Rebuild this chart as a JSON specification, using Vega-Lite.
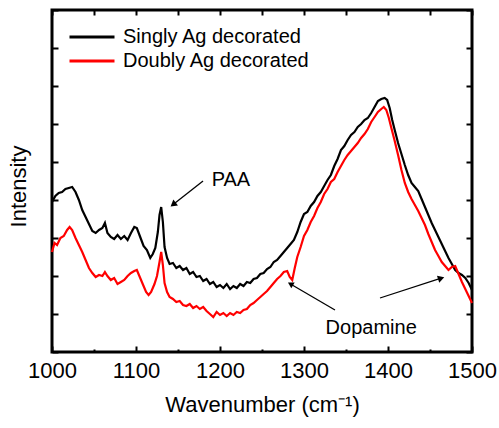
{
  "$schema": "https://vega.github.io/schema/vega-lite/v6.json",
  "width": 420,
  "height": 342,
  "autosize": {"type": "none"},
  "padding": {"left": 52, "top": 10, "right": 27, "bottom": 76},
  "config": {
    "font": "Liberation Sans",
    "view": {"stroke": "#000000", "strokeWidth": 3},
    "axis": {
      "domain": false,
      "grid": false,
      "tickColor": "#000000",
      "tickWidth": 2,
      "labelFont": "Liberation Sans",
      "labelFontSize": 22,
      "labelColor": "#000000",
      "titleFont": "Liberation Sans",
      "titleFontSize": 22,
      "titleFontWeight": "normal",
      "titleColor": "#000000"
    }
  },
  "datasets": {
    "spectra": [
      {"wn":1000,"I":150,"sample":"Singly Ag decorated"},{"wn":1004,"I":156,"sample":"Singly Ag decorated"},{"wn":1008,"I":159,"sample":"Singly Ag decorated"},{"wn":1012,"I":160,"sample":"Singly Ag decorated"},{"wn":1016,"I":163,"sample":"Singly Ag decorated"},{"wn":1020,"I":164,"sample":"Singly Ag decorated"},{"wn":1024,"I":165,"sample":"Singly Ag decorated"},{"wn":1028,"I":160,"sample":"Singly Ag decorated"},{"wn":1032,"I":152,"sample":"Singly Ag decorated"},{"wn":1036,"I":142,"sample":"Singly Ag decorated"},{"wn":1040,"I":135,"sample":"Singly Ag decorated"},{"wn":1044,"I":128,"sample":"Singly Ag decorated"},{"wn":1048,"I":121,"sample":"Singly Ag decorated"},{"wn":1052,"I":119,"sample":"Singly Ag decorated"},{"wn":1056,"I":122,"sample":"Singly Ag decorated"},{"wn":1060,"I":124,"sample":"Singly Ag decorated"},{"wn":1063,"I":129,"sample":"Singly Ag decorated"},{"wn":1066,"I":119,"sample":"Singly Ag decorated"},{"wn":1070,"I":115,"sample":"Singly Ag decorated"},{"wn":1074,"I":113,"sample":"Singly Ag decorated"},{"wn":1078,"I":117,"sample":"Singly Ag decorated"},{"wn":1082,"I":113,"sample":"Singly Ag decorated"},{"wn":1086,"I":116,"sample":"Singly Ag decorated"},{"wn":1090,"I":112,"sample":"Singly Ag decorated"},{"wn":1094,"I":119,"sample":"Singly Ag decorated"},{"wn":1098,"I":125,"sample":"Singly Ag decorated"},{"wn":1101,"I":124,"sample":"Singly Ag decorated"},{"wn":1105,"I":115,"sample":"Singly Ag decorated"},{"wn":1109,"I":106,"sample":"Singly Ag decorated"},{"wn":1113,"I":102,"sample":"Singly Ag decorated"},{"wn":1117,"I":94,"sample":"Singly Ag decorated"},{"wn":1120,"I":98,"sample":"Singly Ag decorated"},{"wn":1123,"I":104,"sample":"Singly Ag decorated"},{"wn":1126,"I":120,"sample":"Singly Ag decorated"},{"wn":1128,"I":137,"sample":"Singly Ag decorated"},{"wn":1130,"I":145,"sample":"Singly Ag decorated"},{"wn":1132,"I":130,"sample":"Singly Ag decorated"},{"wn":1134,"I":105,"sample":"Singly Ag decorated"},{"wn":1137,"I":94,"sample":"Singly Ag decorated"},{"wn":1140,"I":88,"sample":"Singly Ag decorated"},{"wn":1144,"I":89,"sample":"Singly Ag decorated"},{"wn":1148,"I":84,"sample":"Singly Ag decorated"},{"wn":1152,"I":86,"sample":"Singly Ag decorated"},{"wn":1156,"I":82,"sample":"Singly Ag decorated"},{"wn":1160,"I":84,"sample":"Singly Ag decorated"},{"wn":1164,"I":78,"sample":"Singly Ag decorated"},{"wn":1168,"I":80,"sample":"Singly Ag decorated"},{"wn":1172,"I":75,"sample":"Singly Ag decorated"},{"wn":1176,"I":76,"sample":"Singly Ag decorated"},{"wn":1180,"I":71,"sample":"Singly Ag decorated"},{"wn":1184,"I":73,"sample":"Singly Ag decorated"},{"wn":1188,"I":68,"sample":"Singly Ag decorated"},{"wn":1192,"I":70,"sample":"Singly Ag decorated"},{"wn":1196,"I":65,"sample":"Singly Ag decorated"},{"wn":1200,"I":67,"sample":"Singly Ag decorated"},{"wn":1204,"I":64,"sample":"Singly Ag decorated"},{"wn":1208,"I":68,"sample":"Singly Ag decorated"},{"wn":1212,"I":63,"sample":"Singly Ag decorated"},{"wn":1216,"I":66,"sample":"Singly Ag decorated"},{"wn":1220,"I":64,"sample":"Singly Ag decorated"},{"wn":1224,"I":68,"sample":"Singly Ag decorated"},{"wn":1228,"I":66,"sample":"Singly Ag decorated"},{"wn":1232,"I":70,"sample":"Singly Ag decorated"},{"wn":1236,"I":69,"sample":"Singly Ag decorated"},{"wn":1240,"I":73,"sample":"Singly Ag decorated"},{"wn":1244,"I":74,"sample":"Singly Ag decorated"},{"wn":1248,"I":78,"sample":"Singly Ag decorated"},{"wn":1252,"I":79,"sample":"Singly Ag decorated"},{"wn":1256,"I":83,"sample":"Singly Ag decorated"},{"wn":1260,"I":85,"sample":"Singly Ag decorated"},{"wn":1264,"I":90,"sample":"Singly Ag decorated"},{"wn":1268,"I":92,"sample":"Singly Ag decorated"},{"wn":1272,"I":96,"sample":"Singly Ag decorated"},{"wn":1276,"I":100,"sample":"Singly Ag decorated"},{"wn":1280,"I":104,"sample":"Singly Ag decorated"},{"wn":1284,"I":108,"sample":"Singly Ag decorated"},{"wn":1288,"I":112,"sample":"Singly Ag decorated"},{"wn":1292,"I":120,"sample":"Singly Ag decorated"},{"wn":1296,"I":130,"sample":"Singly Ag decorated"},{"wn":1300,"I":138,"sample":"Singly Ag decorated"},{"wn":1304,"I":140,"sample":"Singly Ag decorated"},{"wn":1308,"I":146,"sample":"Singly Ag decorated"},{"wn":1312,"I":150,"sample":"Singly Ag decorated"},{"wn":1316,"I":156,"sample":"Singly Ag decorated"},{"wn":1320,"I":160,"sample":"Singly Ag decorated"},{"wn":1324,"I":166,"sample":"Singly Ag decorated"},{"wn":1328,"I":172,"sample":"Singly Ag decorated"},{"wn":1332,"I":177,"sample":"Singly Ag decorated"},{"wn":1336,"I":186,"sample":"Singly Ag decorated"},{"wn":1340,"I":193,"sample":"Singly Ag decorated"},{"wn":1344,"I":202,"sample":"Singly Ag decorated"},{"wn":1348,"I":206,"sample":"Singly Ag decorated"},{"wn":1352,"I":212,"sample":"Singly Ag decorated"},{"wn":1356,"I":217,"sample":"Singly Ag decorated"},{"wn":1360,"I":220,"sample":"Singly Ag decorated"},{"wn":1364,"I":225,"sample":"Singly Ag decorated"},{"wn":1368,"I":228,"sample":"Singly Ag decorated"},{"wn":1372,"I":232,"sample":"Singly Ag decorated"},{"wn":1376,"I":234,"sample":"Singly Ag decorated"},{"wn":1380,"I":239,"sample":"Singly Ag decorated"},{"wn":1384,"I":245,"sample":"Singly Ag decorated"},{"wn":1388,"I":251,"sample":"Singly Ag decorated"},{"wn":1392,"I":253,"sample":"Singly Ag decorated"},{"wn":1396,"I":254,"sample":"Singly Ag decorated"},{"wn":1399,"I":252,"sample":"Singly Ag decorated"},{"wn":1402,"I":244,"sample":"Singly Ag decorated"},{"wn":1405,"I":232,"sample":"Singly Ag decorated"},{"wn":1408,"I":222,"sample":"Singly Ag decorated"},{"wn":1412,"I":209,"sample":"Singly Ag decorated"},{"wn":1416,"I":198,"sample":"Singly Ag decorated"},{"wn":1420,"I":187,"sample":"Singly Ag decorated"},{"wn":1424,"I":177,"sample":"Singly Ag decorated"},{"wn":1428,"I":169,"sample":"Singly Ag decorated"},{"wn":1432,"I":165,"sample":"Singly Ag decorated"},{"wn":1436,"I":161,"sample":"Singly Ag decorated"},{"wn":1440,"I":153,"sample":"Singly Ag decorated"},{"wn":1444,"I":145,"sample":"Singly Ag decorated"},{"wn":1448,"I":137,"sample":"Singly Ag decorated"},{"wn":1452,"I":129,"sample":"Singly Ag decorated"},{"wn":1456,"I":122,"sample":"Singly Ag decorated"},{"wn":1460,"I":115,"sample":"Singly Ag decorated"},{"wn":1464,"I":108,"sample":"Singly Ag decorated"},{"wn":1468,"I":101,"sample":"Singly Ag decorated"},{"wn":1472,"I":94,"sample":"Singly Ag decorated"},{"wn":1476,"I":88,"sample":"Singly Ag decorated"},{"wn":1480,"I":82,"sample":"Singly Ag decorated"},{"wn":1484,"I":79,"sample":"Singly Ag decorated"},{"wn":1488,"I":77,"sample":"Singly Ag decorated"},{"wn":1492,"I":74,"sample":"Singly Ag decorated"},{"wn":1496,"I":69,"sample":"Singly Ag decorated"},{"wn":1500,"I":62,"sample":"Singly Ag decorated"},
      {"wn":1000,"I":100,"sample":"Doubly Ag decorated"},{"wn":1003,"I":109,"sample":"Doubly Ag decorated"},{"wn":1006,"I":107,"sample":"Doubly Ag decorated"},{"wn":1010,"I":114,"sample":"Doubly Ag decorated"},{"wn":1014,"I":116,"sample":"Doubly Ag decorated"},{"wn":1018,"I":122,"sample":"Doubly Ag decorated"},{"wn":1021,"I":125,"sample":"Doubly Ag decorated"},{"wn":1024,"I":122,"sample":"Doubly Ag decorated"},{"wn":1028,"I":114,"sample":"Doubly Ag decorated"},{"wn":1032,"I":107,"sample":"Doubly Ag decorated"},{"wn":1036,"I":100,"sample":"Doubly Ag decorated"},{"wn":1040,"I":92,"sample":"Doubly Ag decorated"},{"wn":1044,"I":84,"sample":"Doubly Ag decorated"},{"wn":1048,"I":79,"sample":"Doubly Ag decorated"},{"wn":1052,"I":75,"sample":"Doubly Ag decorated"},{"wn":1056,"I":77,"sample":"Doubly Ag decorated"},{"wn":1060,"I":76,"sample":"Doubly Ag decorated"},{"wn":1063,"I":80,"sample":"Doubly Ag decorated"},{"wn":1066,"I":76,"sample":"Doubly Ag decorated"},{"wn":1070,"I":72,"sample":"Doubly Ag decorated"},{"wn":1074,"I":74,"sample":"Doubly Ag decorated"},{"wn":1078,"I":68,"sample":"Doubly Ag decorated"},{"wn":1082,"I":70,"sample":"Doubly Ag decorated"},{"wn":1086,"I":72,"sample":"Doubly Ag decorated"},{"wn":1090,"I":76,"sample":"Doubly Ag decorated"},{"wn":1094,"I":79,"sample":"Doubly Ag decorated"},{"wn":1098,"I":81,"sample":"Doubly Ag decorated"},{"wn":1101,"I":82,"sample":"Doubly Ag decorated"},{"wn":1104,"I":76,"sample":"Doubly Ag decorated"},{"wn":1108,"I":68,"sample":"Doubly Ag decorated"},{"wn":1112,"I":60,"sample":"Doubly Ag decorated"},{"wn":1115,"I":57,"sample":"Doubly Ag decorated"},{"wn":1118,"I":60,"sample":"Doubly Ag decorated"},{"wn":1122,"I":68,"sample":"Doubly Ag decorated"},{"wn":1125,"I":76,"sample":"Doubly Ag decorated"},{"wn":1128,"I":90,"sample":"Doubly Ag decorated"},{"wn":1130,"I":100,"sample":"Doubly Ag decorated"},{"wn":1132,"I":87,"sample":"Doubly Ag decorated"},{"wn":1134,"I":69,"sample":"Doubly Ag decorated"},{"wn":1137,"I":60,"sample":"Doubly Ag decorated"},{"wn":1140,"I":55,"sample":"Doubly Ag decorated"},{"wn":1144,"I":53,"sample":"Doubly Ag decorated"},{"wn":1148,"I":50,"sample":"Doubly Ag decorated"},{"wn":1152,"I":51,"sample":"Doubly Ag decorated"},{"wn":1156,"I":47,"sample":"Doubly Ag decorated"},{"wn":1160,"I":46,"sample":"Doubly Ag decorated"},{"wn":1164,"I":48,"sample":"Doubly Ag decorated"},{"wn":1168,"I":44,"sample":"Doubly Ag decorated"},{"wn":1172,"I":46,"sample":"Doubly Ag decorated"},{"wn":1176,"I":43,"sample":"Doubly Ag decorated"},{"wn":1180,"I":45,"sample":"Doubly Ag decorated"},{"wn":1184,"I":41,"sample":"Doubly Ag decorated"},{"wn":1188,"I":38,"sample":"Doubly Ag decorated"},{"wn":1192,"I":35,"sample":"Doubly Ag decorated"},{"wn":1196,"I":40,"sample":"Doubly Ag decorated"},{"wn":1200,"I":37,"sample":"Doubly Ag decorated"},{"wn":1204,"I":39,"sample":"Doubly Ag decorated"},{"wn":1208,"I":36,"sample":"Doubly Ag decorated"},{"wn":1212,"I":39,"sample":"Doubly Ag decorated"},{"wn":1216,"I":37,"sample":"Doubly Ag decorated"},{"wn":1220,"I":40,"sample":"Doubly Ag decorated"},{"wn":1224,"I":39,"sample":"Doubly Ag decorated"},{"wn":1228,"I":42,"sample":"Doubly Ag decorated"},{"wn":1232,"I":43,"sample":"Doubly Ag decorated"},{"wn":1236,"I":47,"sample":"Doubly Ag decorated"},{"wn":1240,"I":49,"sample":"Doubly Ag decorated"},{"wn":1244,"I":52,"sample":"Doubly Ag decorated"},{"wn":1248,"I":55,"sample":"Doubly Ag decorated"},{"wn":1252,"I":58,"sample":"Doubly Ag decorated"},{"wn":1256,"I":61,"sample":"Doubly Ag decorated"},{"wn":1260,"I":65,"sample":"Doubly Ag decorated"},{"wn":1264,"I":69,"sample":"Doubly Ag decorated"},{"wn":1268,"I":73,"sample":"Doubly Ag decorated"},{"wn":1272,"I":76,"sample":"Doubly Ag decorated"},{"wn":1276,"I":80,"sample":"Doubly Ag decorated"},{"wn":1280,"I":81,"sample":"Doubly Ag decorated"},{"wn":1283,"I":75,"sample":"Doubly Ag decorated"},{"wn":1286,"I":72,"sample":"Doubly Ag decorated"},{"wn":1289,"I":84,"sample":"Doubly Ag decorated"},{"wn":1292,"I":95,"sample":"Doubly Ag decorated"},{"wn":1296,"I":105,"sample":"Doubly Ag decorated"},{"wn":1300,"I":116,"sample":"Doubly Ag decorated"},{"wn":1304,"I":122,"sample":"Doubly Ag decorated"},{"wn":1308,"I":130,"sample":"Doubly Ag decorated"},{"wn":1312,"I":136,"sample":"Doubly Ag decorated"},{"wn":1316,"I":144,"sample":"Doubly Ag decorated"},{"wn":1320,"I":150,"sample":"Doubly Ag decorated"},{"wn":1324,"I":158,"sample":"Doubly Ag decorated"},{"wn":1328,"I":163,"sample":"Doubly Ag decorated"},{"wn":1332,"I":170,"sample":"Doubly Ag decorated"},{"wn":1336,"I":173,"sample":"Doubly Ag decorated"},{"wn":1340,"I":180,"sample":"Doubly Ag decorated"},{"wn":1344,"I":186,"sample":"Doubly Ag decorated"},{"wn":1348,"I":192,"sample":"Doubly Ag decorated"},{"wn":1352,"I":197,"sample":"Doubly Ag decorated"},{"wn":1356,"I":201,"sample":"Doubly Ag decorated"},{"wn":1360,"I":205,"sample":"Doubly Ag decorated"},{"wn":1364,"I":209,"sample":"Doubly Ag decorated"},{"wn":1368,"I":214,"sample":"Doubly Ag decorated"},{"wn":1372,"I":218,"sample":"Doubly Ag decorated"},{"wn":1376,"I":223,"sample":"Doubly Ag decorated"},{"wn":1380,"I":230,"sample":"Doubly Ag decorated"},{"wn":1384,"I":235,"sample":"Doubly Ag decorated"},{"wn":1388,"I":240,"sample":"Doubly Ag decorated"},{"wn":1392,"I":243,"sample":"Doubly Ag decorated"},{"wn":1395,"I":245,"sample":"Doubly Ag decorated"},{"wn":1398,"I":242,"sample":"Doubly Ag decorated"},{"wn":1401,"I":234,"sample":"Doubly Ag decorated"},{"wn":1404,"I":224,"sample":"Doubly Ag decorated"},{"wn":1408,"I":211,"sample":"Doubly Ag decorated"},{"wn":1412,"I":197,"sample":"Doubly Ag decorated"},{"wn":1416,"I":182,"sample":"Doubly Ag decorated"},{"wn":1420,"I":169,"sample":"Doubly Ag decorated"},{"wn":1424,"I":160,"sample":"Doubly Ag decorated"},{"wn":1428,"I":153,"sample":"Doubly Ag decorated"},{"wn":1432,"I":147,"sample":"Doubly Ag decorated"},{"wn":1436,"I":141,"sample":"Doubly Ag decorated"},{"wn":1440,"I":134,"sample":"Doubly Ag decorated"},{"wn":1444,"I":127,"sample":"Doubly Ag decorated"},{"wn":1448,"I":118,"sample":"Doubly Ag decorated"},{"wn":1452,"I":110,"sample":"Doubly Ag decorated"},{"wn":1456,"I":102,"sample":"Doubly Ag decorated"},{"wn":1460,"I":96,"sample":"Doubly Ag decorated"},{"wn":1464,"I":90,"sample":"Doubly Ag decorated"},{"wn":1468,"I":86,"sample":"Doubly Ag decorated"},{"wn":1472,"I":82,"sample":"Doubly Ag decorated"},{"wn":1476,"I":85,"sample":"Doubly Ag decorated"},{"wn":1480,"I":86,"sample":"Doubly Ag decorated"},{"wn":1484,"I":78,"sample":"Doubly Ag decorated"},{"wn":1488,"I":70,"sample":"Doubly Ag decorated"},{"wn":1492,"I":63,"sample":"Doubly Ag decorated"},{"wn":1496,"I":56,"sample":"Doubly Ag decorated"},{"wn":1500,"I":49,"sample":"Doubly Ag decorated"}
    ],
    "arrows": [
      {"id":"paa","x1":1179.8,"y1":171,"x2":1144.2,"y2":147.5},
      {"id":"dop1","x1":1336.9,"y1":42,"x2":1283.9,"y2":68},
      {"id":"dop2","x1":1390.5,"y1":54,"x2":1463.3,"y2":73.8}
    ],
    "notes": [
      {"text":"PAA","wn":1213,"I":172.5},
      {"text":"Dopamine","wn":1380,"I":24}
    ]
  },
  "layer": [
    {
      "data": {"name": "spectra"},
      "mark": {"type": "line", "strokeWidth": 2.2},
      "encoding": {
        "x": {
          "field": "wn", "type": "quantitative",
          "scale": {"domain": [1000, 1500], "nice": false, "zero": false},
          "axis": {
            "orient": "bottom",
            "values": [1000,1050,1100,1150,1200,1250,1300,1350,1400,1450,1500],
            "format": "d",
            "labelExpr": "datum.value % 100 === 0 ? datum.label : ''",
            "labelFlush": false,
            "labelOverlap": false,
            "labelBound": false,
            "tickSize": {"condition": {"test": "datum.value % 100 === 0", "value": -6}, "value": -3},
            "labelPadding": 14,
            "title": "Wavenumber (cm⁻¹)",
            "titlePadding": 10
          }
        },
        "y": {
          "field": "I", "type": "quantitative",
          "scale": {"domain": [0, 342], "nice": false, "zero": false},
          "axis": {
            "orient": "left",
            "values": [0,38,76,114,152,190,228,266,304,342],
            "labels": false,
            "tickSize": -6,
            "title": "Intensity",
            "titlePadding": 21,
            "titleY": 176
          }
        },
        "color": {
          "field": "sample", "type": "nominal",
          "scale": {"domain": ["Singly Ag decorated", "Doubly Ag decorated"], "range": ["#000000", "#ff0000"]},
          "legend": {
            "title": null,
            "orient": "none",
            "legendX": 16,
            "legendY": 15,
            "padding": 0,
            "symbolType": "stroke",
            "symbolSize": 2025,
            "symbolStrokeWidth": 3,
            "labelFont": "Liberation Sans",
            "labelFontSize": 20,
            "labelColor": "#000000",
            "labelLimit": 0,
            "labelOffset": 7,
            "clipHeight": 24,
            "rowPadding": 0
          }
        }
      }
    },
    {
      "data": {"name": "arrows"},
      "mark": {"type": "rule", "color": "#000000", "strokeWidth": 1.3},
      "encoding": {
        "x": {
          "field": "x1", "type": "quantitative",
          "scale": {"domain": [1000, 1500], "nice": false, "zero": false},
          "axis": {
            "orient": "top",
            "values": [1000,1050,1100,1150,1200,1250,1300,1350,1400,1450,1500],
            "labels": false,
            "tickSize": -5,
            "title": null
          }
        },
        "y": {
          "field": "y1", "type": "quantitative",
          "scale": {"domain": [0, 342], "nice": false, "zero": false},
          "axis": {
            "orient": "right",
            "values": [0,38,76,114,152,190,228,266,304,342],
            "labels": false,
            "tickSize": -6,
            "title": null
          }
        },
        "x2": {"field": "x2"},
        "y2": {"field": "y2"}
      }
    },
    {
      "data": {"name": "arrows"},
      "transform": [{"filter": "datum.id === 'paa'"}],
      "mark": {"type": "point", "shape": "triangle-up", "filled": true, "color": "#000000", "opacity": 1, "size": 55, "angle": 232},
      "encoding": {
        "x": {"field": "x2", "type": "quantitative", "axis": null},
        "y": {"field": "y2", "type": "quantitative", "axis": null}
      }
    },
    {
      "data": {"name": "arrows"},
      "transform": [{"filter": "datum.id === 'dop1'"}],
      "mark": {"type": "point", "shape": "triangle-up", "filled": true, "color": "#000000", "opacity": 1, "size": 45, "angle": 300},
      "encoding": {
        "x": {"field": "x2", "type": "quantitative", "axis": null},
        "y": {"field": "y2", "type": "quantitative", "axis": null}
      }
    },
    {
      "data": {"name": "arrows"},
      "transform": [{"filter": "datum.id === 'dop2'"}],
      "mark": {"type": "point", "shape": "triangle-up", "filled": true, "color": "#000000", "opacity": 1, "size": 55, "angle": 72},
      "encoding": {
        "x": {"field": "x2", "type": "quantitative", "axis": null},
        "y": {"field": "y2", "type": "quantitative", "axis": null}
      }
    },
    {
      "data": {"name": "notes"},
      "mark": {"type": "text", "font": "Liberation Sans", "fontSize": 20, "color": "#000000", "align": "center", "baseline": "middle"},
      "encoding": {
        "x": {"field": "wn", "type": "quantitative", "axis": null},
        "y": {"field": "I", "type": "quantitative", "axis": null},
        "text": {"field": "text"}
      }
    }
  ],
  "resolve": {"axis": {"x": "independent", "y": "independent"}}
}
